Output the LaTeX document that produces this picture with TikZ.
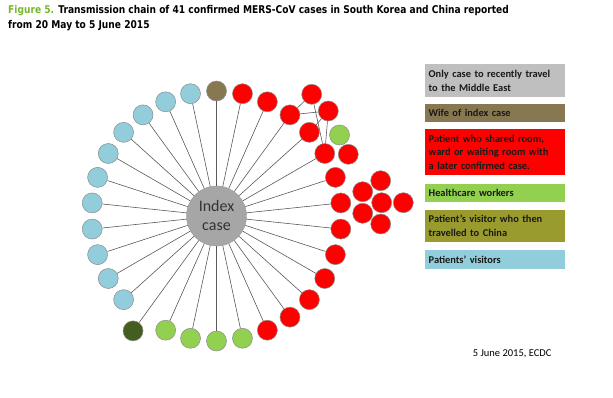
\documentclass[tikz,border=0pt]{standalone}
\usepackage{fontspec}
\setmainfont{Carlito}
\newfontfamily\titlefont{DejaVu Sans}[FakeStretch=0.85]
\usetikzlibrary{positioning, backgrounds}
\definecolor{ECDC_Green}{HTML}{77B82A}
\definecolor{Case_Gray}{HTML}{BFBFBF}
\definecolor{Case_Index}{HTML}{A6A6A6}
\definecolor{Case_Wife}{HTML}{887852}
\definecolor{Case_Ward}{HTML}{FF0000}
\definecolor{Case_HCW}{HTML}{92D050}
\definecolor{Case_China}{HTML}{9A9B2E}
\definecolor{Case_ChinaDark}{HTML}{435E1E}
\definecolor{Case_Visitor}{HTML}{92CDDC}
\tikzset{
  case/.style={circle, draw=black!45, line width=0.5pt, minimum size=20pt, inner sep=0pt},
  link/.style={draw=black!65, line width=0.6pt},
  legend/.style={inner xsep=3.5pt, inner ysep=0pt, text width=132.3pt, align=left,
    font=\fontsize{10.4}{13.7}\selectfont\bfseries, text=black!90}
}

\begin{document}
\begin{tikzpicture}[x=1pt, y=1pt]
    \useasboundingbox (0,0) rectangle (613,397);
    % Title and source
    \node[anchor=north west, inner sep=0pt, align=left, font=\titlefont\bfseries\fontsize{10.7}{14.5}\selectfont] (title) at (8,391.5)
        {\textcolor{ECDC_Green}{Figure 5.} Transmission chain of 41 confirmed MERS-CoV cases in South Korea and China reported\\from 20 May to 5 June 2015};
    \node[anchor=base east, inner sep=0pt, font=\fontsize{10.5}{12}\selectfont] (source) at (551.7,41) {5 June 2015, ECDC};
    % Index case in the middle
    \node[circle, fill=Case_Index, draw=black!40, minimum size=60pt, align=center, text=black!80,
        font=\fontsize{16}{19}\selectfont] (index) at (216.5,181) {Index\\case};
    % Ring of 30 cases, one every 12 degrees
    \node[case, fill=Case_Wife] (n90) at ([shift={(90:125)}]index.center) {};
    \foreach \a in {102,114,...,222}
        \node[case, fill=Case_Visitor] (n\a) at ([shift={(\a:125)}]index.center) {};
    \node[case, fill=Case_ChinaDark] (n234) at ([shift={(234:142)}]index.center) {};
    \foreach \a in {246,258,...,282}
        \node[case, fill=Case_HCW] (n\a) at ([shift={(\a:125)}]index.center) {};
    \foreach \a in {294,306,...,438}
        \node[case, fill=Case_Ward] (n\a) at ([shift={(\a:125)}]index.center) {};
    \foreach \a in {90,102,...,438}
        \draw[link] (index) -- (n\a);
    % Later cases, top right
    \node[case, fill=Case_Ward] (tr1) at (311.7,302.7) {};
    \node[case, fill=Case_Ward] (tr2) at (328.3,286) {};
    \node[case, fill=Case_HCW] (tr3) at (339.5,262) {};
    \node[case, fill=Case_Ward] (tr4) at (348.3,242.7) {};
    \draw[link] (n414) -- (tr1);
    \draw[link] (n414) -- (tr2);
    \draw[link] (tr2) -- (n402);
    \draw[link] (tr2) -- (n390);
    \begin{pgfonlayer}{background}
        \draw[link] (tr1) -- (n390);
    \end{pgfonlayer}
    % Later cases, right
    \node[case, fill=Case_Ward] (rc1) at (362.7,205.3) {};
    \node[case, fill=Case_Ward] (rc2) at (380.7,216.3) {};
    \node[case, fill=Case_Ward] (rc3) at (362.7,183.7) {};
    \node[case, fill=Case_Ward] (rc4) at (380.7,173) {};
    \node[case, fill=Case_Ward] (rc5) at (381.7,194.3) {};
    \node[case, fill=Case_Ward] (rc6) at (403.3,194.3) {};
    % Legend
    \node[legend, fill=Case_Gray, minimum height=32.4pt, anchor=north west] (travel) at (425,332.7)
        {Only case to recently travel\\to the Middle East};
    \node[legend, fill=Case_Wife, minimum height=18.4pt, below right=6.6pt and 0pt of travel.south west] (wife)
        {Wife of index case};
    \node[legend, fill=Case_Ward, minimum height=46pt, below right=6.6pt and 0pt of wife.south west] (ward)
        {Patient who shared room,\\ward or waiting room with\\a later confirmed case.};
    \node[legend, fill=Case_HCW, minimum height=18.4pt, below right=8pt and 0pt of ward.south west] (hcw)
        {Healthcare workers};
    \node[legend, fill=Case_China, minimum height=32pt, below right=7.6pt and 0pt of hcw.south west] (china)
        {Patient’s visitor who then\\travelled to China};
    \node[legend, fill=Case_Visitor, minimum height=19pt, below right=7.4pt and 0pt of china.south west] (visitor)
        {Patients’ visitors};
\end{tikzpicture}
\end{document}
